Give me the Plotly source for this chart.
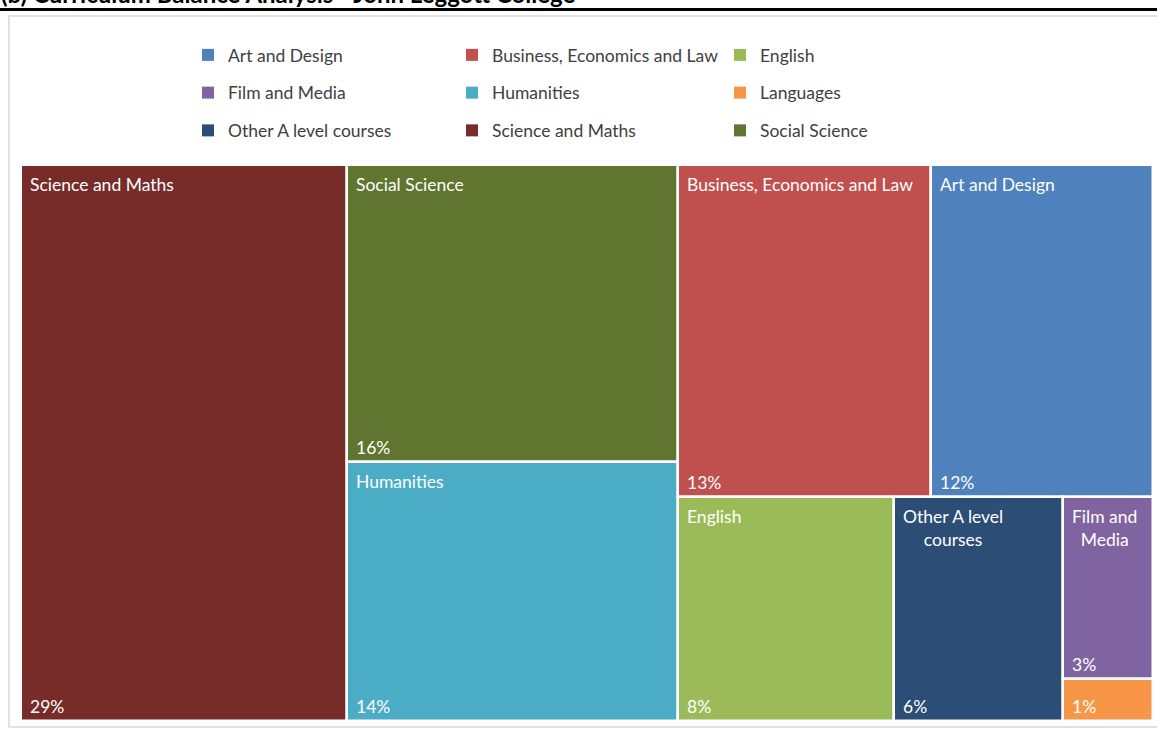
import plotly.graph_objects as go

# ---------------- data ----------------
categories = ["Art and Design", "Business, Economics and Law", "English",
              "Film and Media", "Humanities", "Languages",
              "Other A level courses", "Science and Maths", "Social Science"]
shares = [11.7, 13.3, 7.7, 2.6, 13.6, 0.6, 6.0, 28.7, 15.6]
colors = ["#4F81BD", "#C0504D", "#9BBB59", "#8064A2", "#4BACC6",
          "#F79646", "#2C4D75", "#772C2A", "#5F7530"]
title_text = "(b) Curriculum Balance Analysis - John Leggott College"

# ---------------- figure geometry ----------------
FIG_W, FIG_H = 1157, 733
ML, MR, MT, MB = 21, 4, 165, 12
PW, PH = FIG_W - ML - MR, FIG_H - MT - MB
FONT = "Lato"
TILE_FS = 17.5


def worst(row, side):
    s = sum(row)
    return max(max(side * side * r / (s * s), s * s / (side * side * r)) for r in row)


def squarify(areas, x, y, w, h):
    rects = []
    areas = list(areas)
    while areas:
        side = min(w, h)
        row = [areas[0]]
        i = 1
        while i < len(areas) and worst(row + [areas[i]], side) <= worst(row, side):
            row.append(areas[i])
            i += 1
        areas = areas[i:]
        s = sum(row)
        if w >= h:
            cw = s / h
            yy = y
            for a in row:
                rh = a / cw
                rects.append((x, yy, cw, rh))
                yy += rh
            x += cw
            w -= cw
        else:
            rh = s / w
            xx = x
            for a in row:
                rw = a / rh
                rects.append((xx, y, rw, rh))
                xx += rw
            y += rh
            h -= rh
    return rects


def wrap(text, maxw, fs):
    cw = 0.5 * fs
    words = text.split(" ")
    lines, cur = [], ""
    for wd in words:
        cand = (cur + " " + wd).strip()
        if len(cand) * cw <= maxw or not cur:
            cur = cand
        else:
            lines.append(cur)
            cur = wd
    lines.append(cur)
    return "<br>".join(lines)


total = sum(shares)
order = sorted(range(len(shares)), key=lambda i: -shares[i])
areas = [shares[i] / total * PW * PH for i in order]
rects = squarify(areas, 0.0, 0.0, float(PW), float(PH))
rect_of = {order[k]: rects[k] for k in range(len(order))}

fig = go.Figure()
annotations = []
for i in order:
    x0, y0, w, h = rect_of[i]
    fig.add_trace(go.Bar(
        x=[x0 + w / 2], y=[h], base=[y0], width=[w],
        marker=dict(color=colors[i], line=dict(color="white", width=2.5)),
        name=categories[i], showlegend=False,
        hovertemplate=categories[i] + ": %{customdata}%<extra></extra>",
        customdata=[round(shares[i] / total * 100)],
    ))
    pct = f"{shares[i] / total * 100:.0f}%"
    annotations.append(dict(
        x=x0, y=y0 + h, xref="x", yref="y", xanchor="left", yanchor="bottom",
        xshift=7, yshift=2, text=pct, showarrow=False, align="left",
        font=dict(family=FONT, size=TILE_FS, color="white")))
    if h >= 50:
        annotations.append(dict(
            x=x0, y=y0, xref="x", yref="y", xanchor="left", yanchor="top",
            xshift=7, yshift=-7, text=wrap(categories[i], w - 16, 17),
            showarrow=False, align="center",
            font=dict(family=FONT, size=TILE_FS, color="white")))

# legend proxies: 3 columns
legend_names = ["legend", "legend2", "legend3"]
for i, name in enumerate(categories):
    fig.add_trace(go.Scatter(
        x=[None], y=[None], mode="markers", name=name,
        marker=dict(symbol="square", size=12, color=colors[i]),
        legend=legend_names[i % 3], legendgroup=name, showlegend=True,
    ))

col_x = [188, 452, 720]
leg_common = dict(orientation="v", xref="container", yref="container",
                  xanchor="left", yanchor="top", y=1 - 37 / FIG_H,
                  tracegroupgap=12, bgcolor="rgba(0,0,0,0)",
                  font=dict(family=FONT, size=17.5, color="#404040"))
layout_legends = {}
for k, ln in enumerate(legend_names):
    layout_legends[ln] = dict(leg_common, x=col_x[k] / FIG_W)

# decorations: cut title, black rule, light frame
def px_x(p):
    return (p - ML) / PW


def px_y(p):
    return (FIG_H - MB - p) / PH


annotations.append(dict(
    x=px_x(-1), y=px_y(-6), xref="paper", yref="paper", xanchor="left",
    yanchor="middle", text="<b>" + title_text + "</b>", showarrow=False,
    font=dict(family=FONT, size=24, color="black")))

shapes = [
    dict(type="rect", xref="paper", yref="paper", x0=px_x(9), x1=px_x(1200),
         y0=px_y(727), y1=px_y(16), line=dict(color="#D9D9D9", width=1.5),
         fillcolor="rgba(0,0,0,0)", layer="below"),
    dict(type="line", xref="paper", yref="paper", x0=px_x(-5), x1=px_x(1165),
         y0=px_y(9.5), y1=px_y(9.5), line=dict(color="black", width=3)),
]

fig.update_layout(
    width=FIG_W, height=FIG_H,
    margin=dict(l=ML, r=MR, t=MT, b=MB, autoexpand=False),
    paper_bgcolor="white", plot_bgcolor="white",
    barmode="overlay", bargap=0,
    xaxis=dict(range=[0, PW], visible=False, fixedrange=True),
    yaxis=dict(range=[PH, 0], visible=False, fixedrange=True),
    annotations=annotations, shapes=shapes,
    **layout_legends,
)

fig.write_html("out.html")
